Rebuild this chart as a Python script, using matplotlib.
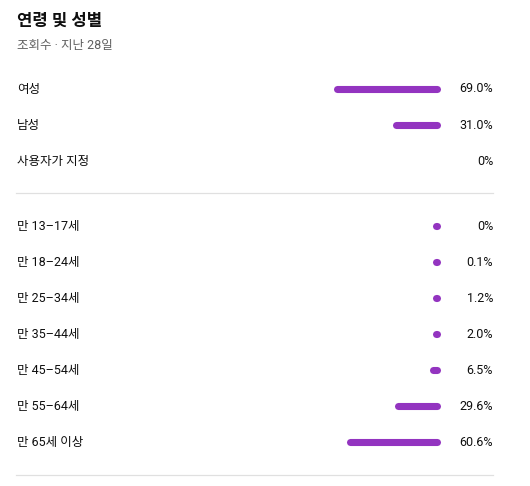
import matplotlib
matplotlib.use("Agg")
import matplotlib.pyplot as plt

plt.rcParams["font.family"] = ["Roboto", "Noto Sans CJK KR", "DejaVu Sans"]

# data
title = "연령 및 성별"
subtitle = "조회수 · 지난 28일"
gender_labels = ["여성", "남성", "사용자가 지정"]
gender_values = [69.0, 31.0, 0.0]
gender_text = ["69.0%", "31.0%", "0%"]
age_labels = ["만 13–17세", "만 18–24세", "만 25–34세", "만 35–44세",
              "만 45–54세", "만 55–64세", "만 65세 이상"]
age_values = [0.0, 0.1, 1.2, 2.0, 6.5, 29.6, 60.6]
age_text = ["0%", "0.1%", "1.2%", "2.0%", "6.5%", "29.6%", "60.6%"]

W, H = 530, 486
BAR_COLOR = "#9334c0"
TEXT = "#0f0f0f"
GREY = "#606060"
LINE = "#e0e0e0"

fig = plt.figure(figsize=(W / 100, H / 100), dpi=100)
fig.patch.set_facecolor("white")

# layout axes in pixel units
ax = fig.add_axes([0, 0, 1, 1])
ax.set_xlim(0, W)
ax.set_ylim(H, 0)
ax.axis("off")

# bar axes: x in percent, inverted, zero at the right edge
px_per_pct = 1.54
bar_right = 436.5
bar_w_px = 130
bax = fig.add_axes([(bar_right - bar_w_px) / W, 0, bar_w_px / W, 1])
bax.set_xlim(bar_w_px / px_per_pct, 0)
bax.set_ylim(H, 0)
bax.axis("off")
cap_pct = 7 / px_per_pct  # round caps add one linewidth to the visible length

ax.text(17, 21, title, fontsize=12, fontweight="bold", color=TEXT, va="center")
ax.text(17, 45, subtitle, fontsize=9, color=GREY, va="center")

row_h = 36


def draw_rows(labels, values, texts, y0, bars=True):
    for i, (lab, v, t) in enumerate(zip(labels, values, texts)):
        y = y0 + i * row_h
        ax.text(17, y, lab, fontsize=9, color=TEXT, va="center")
        ax.text(493, y, t, fontsize=9, color=TEXT, va="center", ha="right")
        if bars:
            bax.plot([0, max(v - cap_pct, 0.01)], [y, y], color=BAR_COLOR,
                     linewidth=5.1, solid_capstyle="round", clip_on=False)


draw_rows(gender_labels[:2], gender_values[:2], gender_text[:2], 89)
# the custom-gender row has no bar
draw_rows(gender_labels[2:], gender_values[2:], gender_text[2:], 89 + 2 * row_h,
          bars=False)

ax.plot([16, 493], [193, 193], color=LINE, linewidth=0.9)
draw_rows(age_labels, age_values, age_text, 226)
ax.plot([16, 493], [475, 475], color=LINE, linewidth=0.9)

fig.savefig("out.png", dpi=100, facecolor="white")
